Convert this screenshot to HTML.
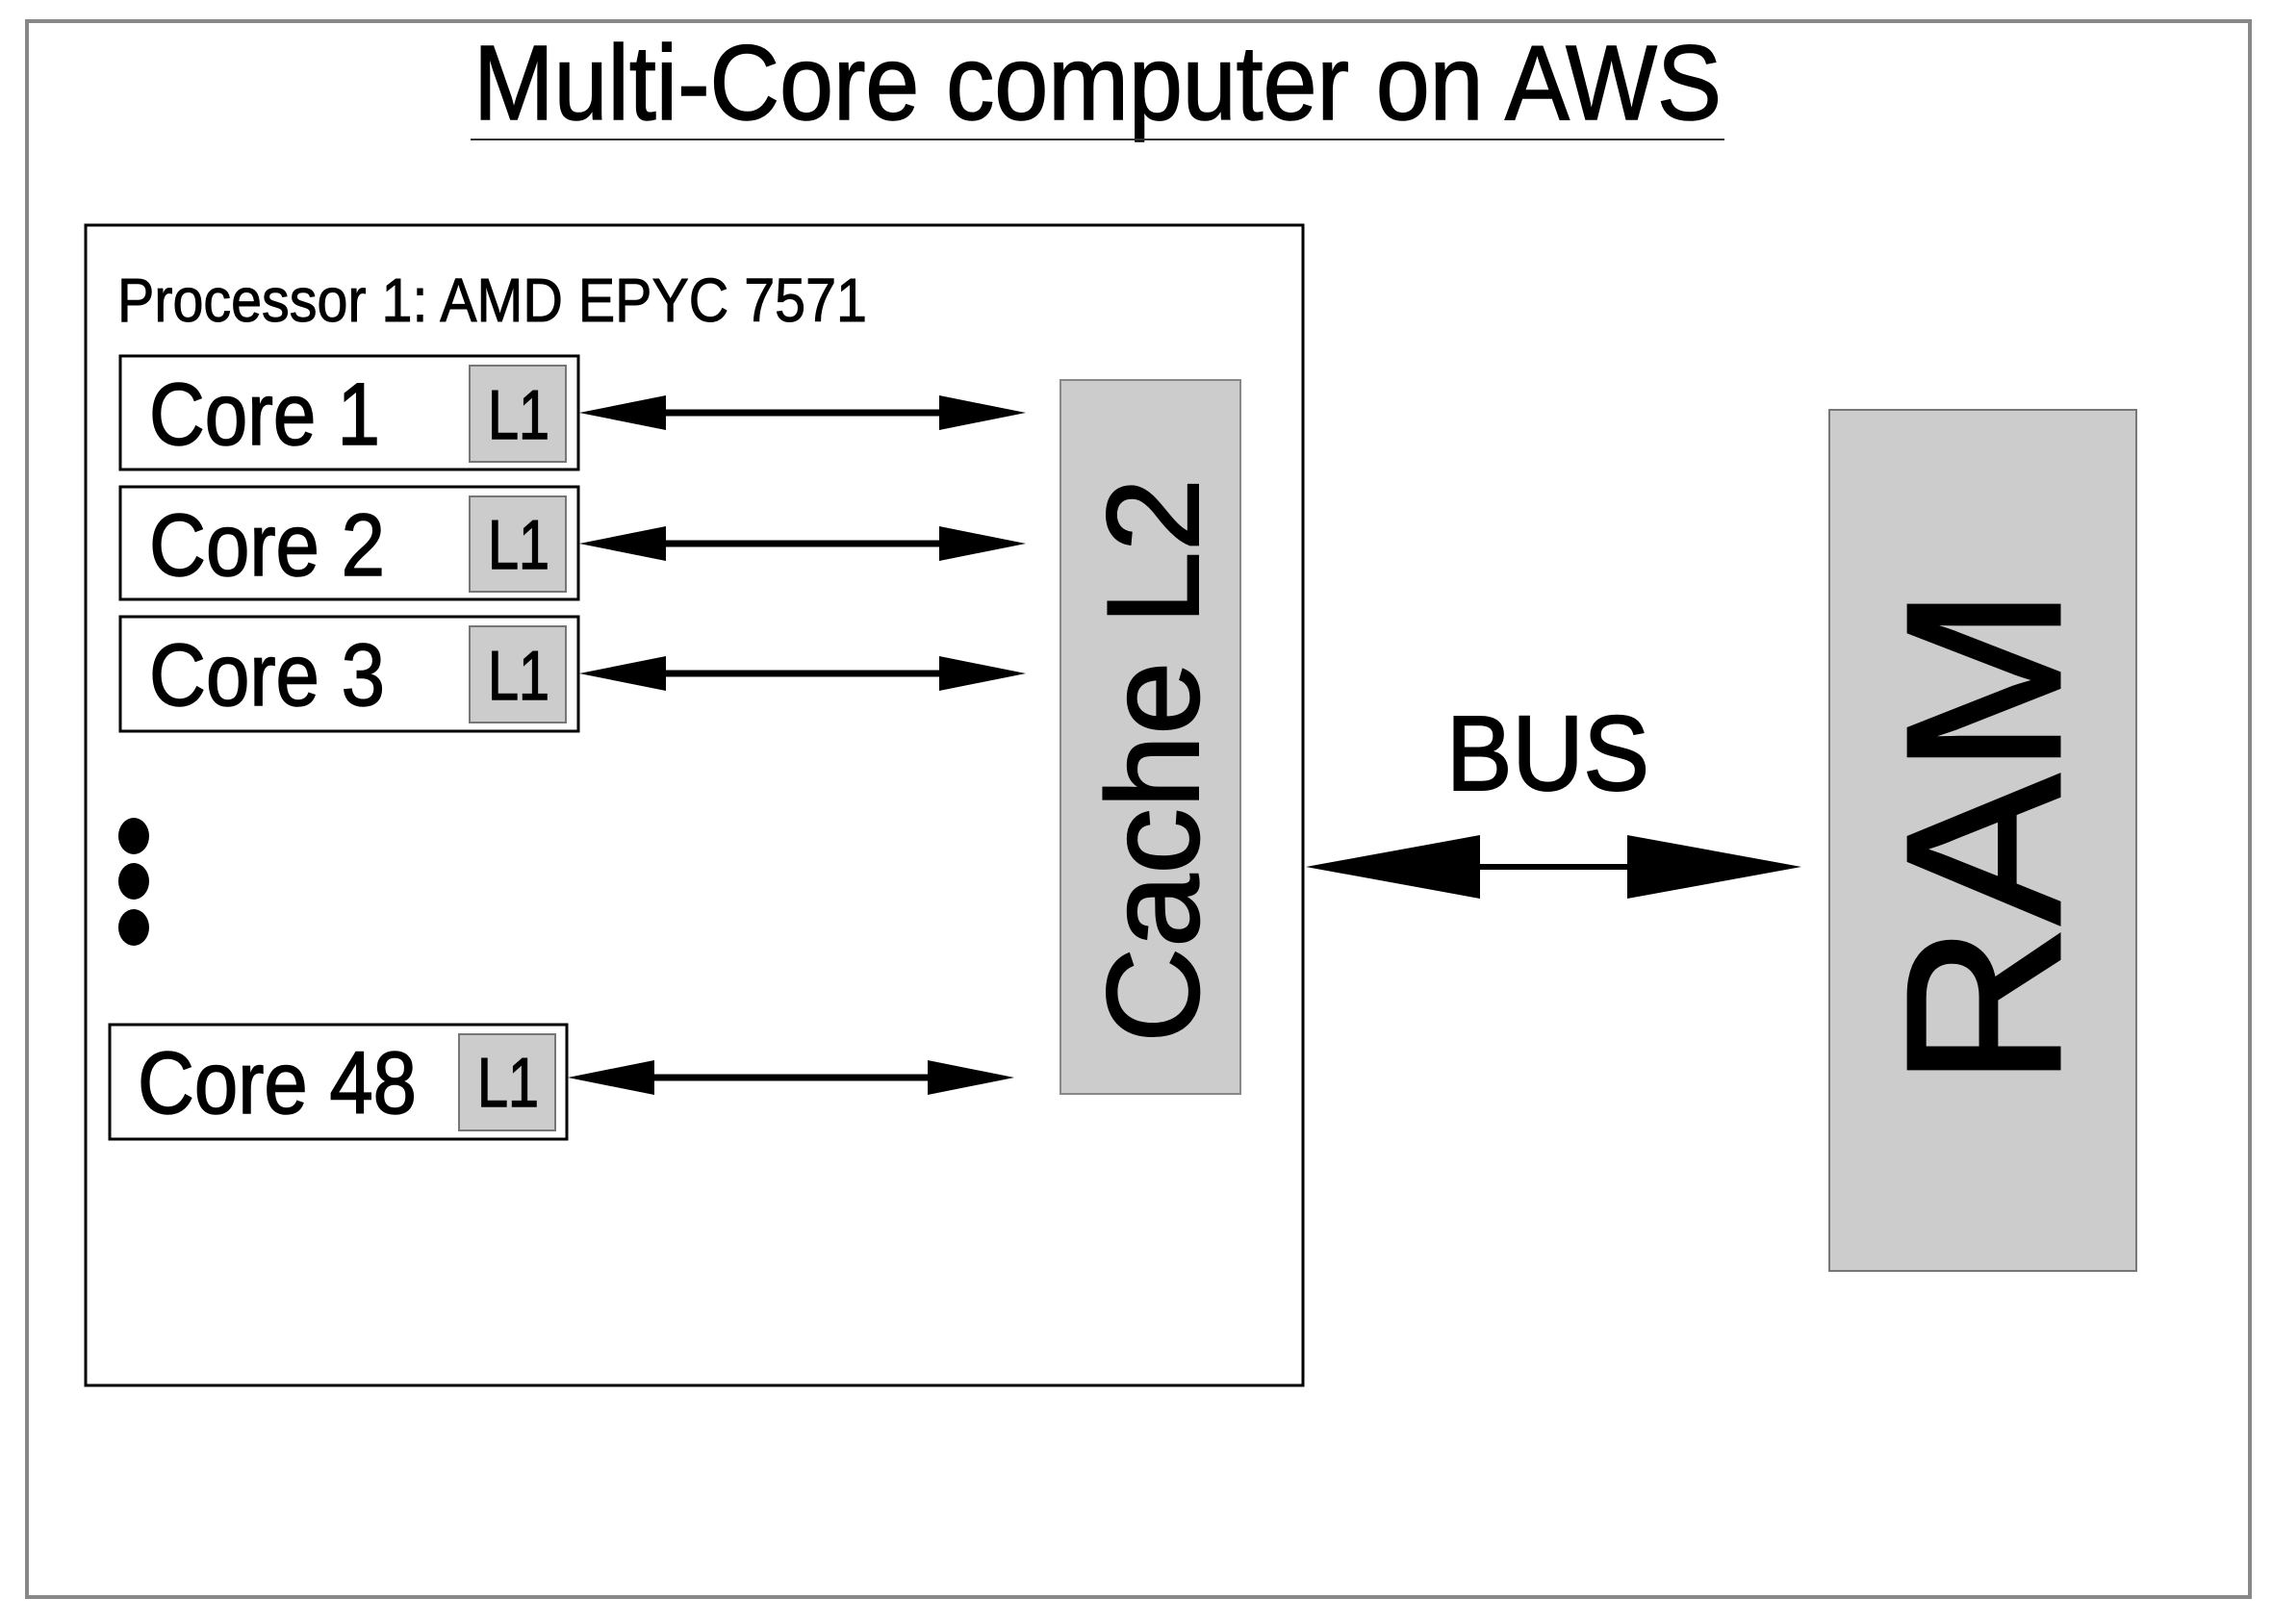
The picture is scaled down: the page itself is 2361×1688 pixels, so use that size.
<!DOCTYPE html>
<html><head><meta charset="utf-8"><style>html,body{margin:0;padding:0;background:#fff}svg{display:block}</style></head>
<body>
<svg width="2361" height="1688" viewBox="0 0 2361 1688" xmlns="http://www.w3.org/2000/svg" font-family="Liberation Sans, sans-serif">
<rect x="0" y="0" width="2361" height="1688" fill="#fff"/>
<rect x="28" y="22" width="2310" height="1638" fill="none" stroke="#888" stroke-width="4"/>
<g stroke="#000" stroke-width="1.5">
<text x="492" y="124" font-size="110" textLength="1297" lengthAdjust="spacingAndGlyphs">Multi-Core computer on AWS</text>
<text x="122" y="334" font-size="64" textLength="779" lengthAdjust="spacingAndGlyphs" stroke-width="1">Processor 1: AMD EPYC 7571</text>
</g>
<line x1="489" y1="145" x2="1792" y2="145" stroke="#333" stroke-width="2"/>
<rect x="89" y="234" width="1265" height="1206" fill="none" stroke="#000" stroke-width="3"/>
<g stroke="#000" stroke-width="3" fill="#fff">
<rect x="125" y="370" width="476" height="118"/>
<rect x="125" y="506" width="476" height="117"/>
<rect x="125" y="641" width="476" height="119"/>
<rect x="114" y="1065" width="475" height="119"/>
</g>
<g fill="#ccc" stroke="#777" stroke-width="2">
<rect x="488" y="380" width="100" height="100"/>
<rect x="488" y="516" width="100" height="99"/>
<rect x="488" y="651" width="100" height="100"/>
<rect x="477" y="1075" width="100" height="100"/>
</g>
<g font-size="92" stroke="#000" stroke-width="1.5">
<text x="155" y="462" textLength="240" lengthAdjust="spacingAndGlyphs">Core 1</text>
<text x="155" y="598" textLength="245" lengthAdjust="spacingAndGlyphs">Core 2</text>
<text x="155" y="733" textLength="245" lengthAdjust="spacingAndGlyphs">Core 3</text>
<text x="143" y="1157" textLength="290" lengthAdjust="spacingAndGlyphs">Core 48</text>
</g>
<g font-size="72" stroke="#000" stroke-width="1.5">
<text x="507" y="456" textLength="64" lengthAdjust="spacingAndGlyphs">L1</text>
<text x="507" y="591" textLength="64" lengthAdjust="spacingAndGlyphs">L1</text>
<text x="507" y="727" textLength="64" lengthAdjust="spacingAndGlyphs">L1</text>
<text x="496" y="1150" textLength="64" lengthAdjust="spacingAndGlyphs">L1</text>
</g>
<g fill="#000" stroke="#000">
<line x1="660" y1="429" x2="1000" y2="429" stroke-width="7"/>
<polygon points="602,429 692,411 692,447" stroke="none"/>
<polygon points="1066,429 976,411 976,447" stroke="none"/>
<line x1="660" y1="565" x2="1000" y2="565" stroke-width="7"/>
<polygon points="602,565 692,547 692,583" stroke="none"/>
<polygon points="1066,565 976,547 976,583" stroke="none"/>
<line x1="660" y1="700" x2="1000" y2="700" stroke-width="7"/>
<polygon points="602,700 692,682 692,718" stroke="none"/>
<polygon points="1066,700 976,682 976,718" stroke="none"/>
<line x1="650" y1="1120" x2="990" y2="1120" stroke-width="7"/>
<polygon points="590,1120 680,1102 680,1138" stroke="none"/>
<polygon points="1054,1120 964,1102 964,1138" stroke="none"/>
<line x1="1500" y1="901" x2="1730" y2="901" stroke-width="6"/>
<polygon points="1357,901 1538,868 1538,934" stroke="none"/>
<polygon points="1872,901 1691,868 1691,934" stroke="none"/>
<ellipse cx="139" cy="869" rx="16" ry="19" stroke="none"/>
<ellipse cx="139" cy="916" rx="16" ry="19" stroke="none"/>
<ellipse cx="139" cy="964" rx="16" ry="19" stroke="none"/>
</g>
<rect x="1102" y="395" width="187" height="742" fill="#ccc" stroke="#888" stroke-width="2"/>
<g stroke="#000" stroke-width="2">
<text transform="translate(1245,1084) rotate(-90)" font-size="136" textLength="587" lengthAdjust="spacingAndGlyphs">Cache L2</text>
<text x="1503" y="821" font-size="110" textLength="211" lengthAdjust="spacingAndGlyphs">BUS</text>
</g>
<rect x="1901" y="426" width="319" height="895" fill="#ccc" stroke="#777" stroke-width="2"/>
<text transform="translate(2140,1130) rotate(-90)" font-size="228" textLength="520" lengthAdjust="spacingAndGlyphs" stroke="#000" stroke-width="3">RAM</text>
</svg>
</body></html>
